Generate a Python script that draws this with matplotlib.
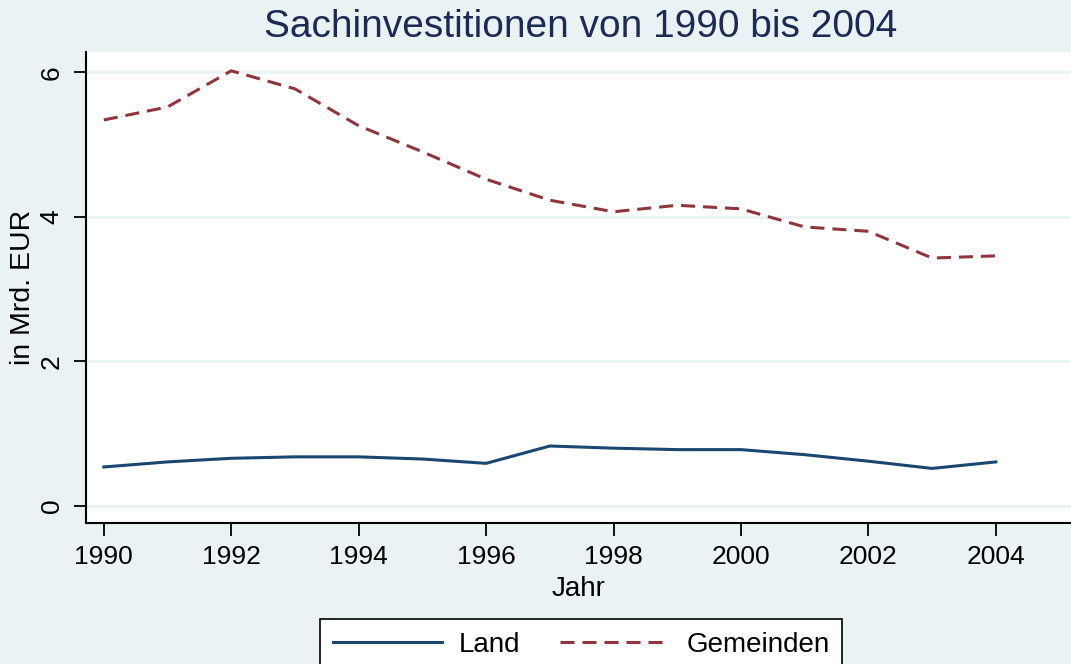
import matplotlib
matplotlib.use("Agg")
import matplotlib.pyplot as plt

plt.rcParams['font.family'] = ['Liberation Sans', 'DejaVu Sans']

# data
jahre = [1990, 1991, 1992, 1993, 1994, 1995, 1996, 1997,
         1998, 1999, 2000, 2001, 2002, 2003, 2004]
land = [0.54, 0.61, 0.66, 0.68, 0.68, 0.65, 0.59, 0.83,
        0.80, 0.78, 0.78, 0.71, 0.62, 0.52, 0.61]
gemeinden = [5.34, 5.52, 6.02, 5.77, 5.26, 4.90, 4.52, 4.23,
             4.07, 4.16, 4.11, 3.86, 3.80, 3.43, 3.46]

bg = '#eaf2f3'
navy = '#1a476f'
maroon = '#90353b'

fig = plt.figure(figsize=(10.71, 6.64), dpi=100, facecolor=bg)
ax = fig.add_axes([86/1071, 1-523/664, 1-86/1071, (523-52)/664])
ax.set_facecolor('white')

ax.plot(jahre, land, color=navy, lw=2.2, label='Land')
ax.plot(jahre, gemeinden, color=maroon, lw=2.2, dashes=(4.6, 2.6), label='Gemeinden')

ax.set_xlim(1989.72, 2005.18)
ax.set_ylim(-0.235, 6.28)
ax.set_xticks(range(1990, 2005, 2))
ax.set_yticks([0, 2, 4, 6])
ax.grid(axis='y', color=bg, lw=2)
ax.set_axisbelow(True)

for s in ['top', 'right']:
    ax.spines[s].set_visible(False)
for s in ['left', 'bottom']:
    ax.spines[s].set_linewidth(1.5)
    ax.spines[s].set_color('black')

ax.tick_params(axis='both', length=9, width=1.3, labelsize=19, pad=7)
for lab in ax.get_yticklabels():
    lab.set_rotation(90)
    lab.set_va('center')

ax.set_xlabel('Jahr', fontsize=20, labelpad=5)
ax.set_ylabel('in Mrd. EUR', fontsize=20.5, labelpad=3)

fig.text(581/1071, 1-27/664, 'Sachinvestitionen von 1990 bis 2004',
         ha='center', va='center', fontsize=28, color='#1c2a55')

leg = fig.legend(loc='upper center', bbox_to_anchor=(581/1071, 1-619/664),
                 borderaxespad=0, ncol=2, fontsize=20, frameon=True,
                 fancybox=False, edgecolor='black', framealpha=1,
                 handlelength=3.95, columnspacing=1.42, borderpad=0.45,
                 handletextpad=0.6)
leg.get_frame().set_linewidth(1.2)

fig.savefig('out.png', dpi=100, facecolor=bg)
